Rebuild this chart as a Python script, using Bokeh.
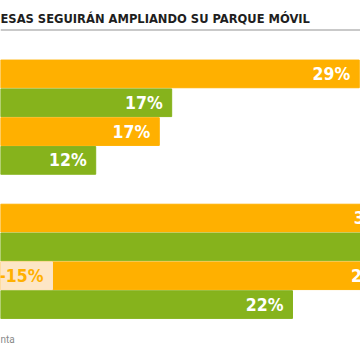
from bokeh.plotting import figure
from bokeh.models import Range1d, ColumnDataSource, Label, Span, LabelSet
from bokeh.core.properties import value
from bokeh.embed import file_html
from bokeh.resources import INLINE

# ---- data ----
title_text = "ESAS SEGUIRÁN AMPLIANDO SU PARQUE MÓVIL"
footer_text = "nta"

g1_values = [29.4, 17.3, 16.5, 12.4]
g1_labels = ["29%", "17%", "17%", "12%"]

g2_values = [29.6, 32, 29.4, 22]
g2_labels = ["30%", "", "29%", "22%"]   # label of row 2 lies outside the visible crop

change_row = 2          # index inside group 2
change_values = [-15]
change_labels = ["-15%"]

ORANGE = "#FFB000"
GREEN = "#86B31C"
BEIGE = "#FDE6C6"
series_colors = [ORANGE, GREEN, ORANGE, GREEN]

FONT_STR = "DejaVu Sans Condensed"
FONT = value(FONT_STR)

# row positions: group 1 rows, one empty row, group 2 rows
n = len(g1_values)
g1_rows = list(range(n))
g2_rows = [n + 1 + i for i in range(len(g2_values))]

p = figure(width=360, height=360, output_backend="svg", toolbar_location=None,
           x_range=Range1d(6.258, 29.48), y_range=Range1d(9.94, -2.546),
           x_axis_location=None, y_axis_location=None,
           min_border_left=0, min_border_right=0, min_border_top=0, min_border_bottom=0)
p.extra_x_ranges = {"g2": Range1d(1.437, 26.79), "neg": Range1d(-3.66, 21.69)}
p.outline_line_color = None
p.xgrid.visible = False
p.ygrid.visible = False

src1 = ColumnDataSource(dict(y=g1_rows, v=g1_values, lab=g1_labels, c=series_colors))
src2 = ColumnDataSource(dict(y=g2_rows, v=g2_values, lab=g2_labels, c=series_colors))
src3 = ColumnDataSource(dict(y=[g2_rows[change_row]], v=change_values, lab=change_labels, z=[0]))

p.hbar(y="y", left=0, right="v", height=0.96, color="c", source=src1)
p.hbar(y="y", left=0, right="v", height=0.96, color="c", source=src2, x_range_name="g2")
p.hbar(y="y", left="v", right="z", height=0.96, color=BEIGE, source=src3, x_range_name="neg")

for src, rn in [(src1, "default"), (src2, "g2")]:
    p.add_layout(LabelSet(x="v", y="y", text="lab", source=src, x_range_name=rn,
                          x_offset=-9, text_align="right", text_baseline="middle",
                          text_color="white", text_font=FONT, text_font_style="bold",
                          text_font_size="17.5px"))
p.add_layout(LabelSet(x="z", y="y", text="lab", source=src3, x_range_name="neg",
                      x_offset=-9, text_align="right", text_baseline="middle",
                      text_color=ORANGE, text_font=FONT, text_font_style="bold",
                      text_font_size="17.5px"))

p.add_layout(Label(x=0, y=17.5, x_units="canvas", y_units="canvas", text=title_text,
                   text_font=FONT_STR, text_font_style="bold", text_font_size="12.8px",
                   text_color="#1e1e1e", text_baseline="middle", text_align="left"))
p.add_layout(Span(location=29.5, location_units="canvas", dimension="width",
                  line_color="#c9c9c9", line_width=2))
p.add_layout(Label(x=0, y=339, x_units="canvas", y_units="canvas", text=footer_text,
                   text_font="Roboto", text_font_size="10px",
                   text_color="#8a8a8a", text_baseline="middle", text_align="left"))

open("out.html", "w").write(file_html(p, INLINE))
